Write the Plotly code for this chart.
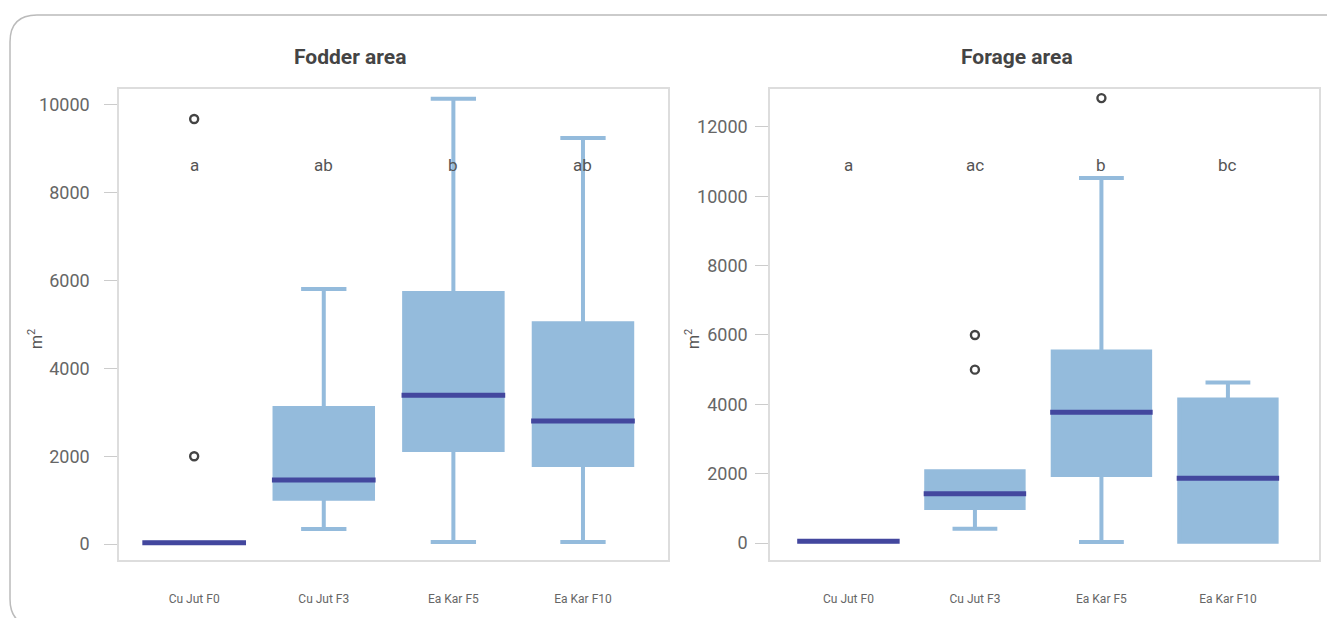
import plotly.graph_objects as go

# Groups shown on both panels
categories = ["Cu Jut F0", "Cu Jut F3", "Ea Kar F5", "Ea Kar F10"]

# Fodder area (m²): box summary statistics per group
fodder_q1 = [30, 1030, 2140, 1800]
fodder_median = [30, 1460, 3390, 2800]
fodder_q3 = [30, 3100, 5720, 5030]
fodder_low = [30, 340, 45, 45]
fodder_high = [30, 5810, 10140, 9250]
fodder_out_cat = ["Cu Jut F0", "Cu Jut F0"]
fodder_out_val = [9680, 2000]
fodder_letters = ["a", "ab", "b", "ab"]

# Forage area (m²): box summary statistics per group
forage_q1 = [50, 1010, 1960, 40]
forage_median = [50, 1420, 3770, 1870]
forage_q3 = [50, 2070, 5520, 4140]
forage_low = [50, 410, 30, 40]
forage_high = [50, 2070, 10530, 4630]
forage_out_cat = ["Cu Jut F3", "Cu Jut F3", "Ea Kar F5"]
forage_out_val = [6000, 5000, 12830]
forage_letters = ["a", "ac", "b", "bc"]

BOX = "#94bbdc"
MED = "#43479e"
OUT = "#444444"
W, H = 1327, 618

fig = go.Figure()


def add_panel(xr, yr, q1, med, q3, lo, hi, out_cat, out_val, box_w, med_w):
    fig.add_trace(go.Box(
        x=categories, q1=q1, median=med, q3=q3, lowerfence=lo, upperfence=hi,
        boxpoints=False, width=box_w, whiskerwidth=0.46,
        line=dict(color=BOX, width=4), fillcolor=BOX,
        xaxis=xr, yaxis=yr, showlegend=False, hoverinfo="skip"))
    # median bars as flat boxes in the darker colour
    fig.add_trace(go.Box(
        x=categories, q1=med, median=med, q3=med, lowerfence=med, upperfence=med,
        boxpoints=False, width=med_w, whiskerwidth=0,
        line=dict(color=MED, width=5), fillcolor=MED,
        xaxis=xr, yaxis=yr, showlegend=False, hoverinfo="skip"))
    fig.add_trace(go.Scatter(
        x=out_cat, y=out_val, mode="markers",
        marker=dict(symbol="circle-open", size=8, color=OUT,
                    line=dict(width=2.4, color=OUT)),
        xaxis=xr, yaxis=yr, showlegend=False, hoverinfo="skip"))


add_panel("x", "y", fodder_q1, fodder_median, fodder_q3, fodder_low,
          fodder_high, fodder_out_cat, fodder_out_val, 0.76, 0.80)
add_panel("x2", "y2", forage_q1, forage_median, forage_q3, forage_low,
          forage_high, forage_out_cat, forage_out_val, 0.77, 0.81)

FONT = "Roboto"
axis_common = dict(showgrid=False, zeroline=False, showline=True, mirror=True,
                   linecolor="#dddddd", linewidth=1.5)
xcommon = dict(axis_common, type="category", categoryorder="array",
               categoryarray=categories, ticks="",
               tickfont=dict(family=FONT, size=12, color="#666666"),
               ticklabelstandoff=27)
ycommon = dict(axis_common, ticks="outside", ticklen=13, tickcolor="#cccccc",
               tickwidth=1, tickfont=dict(family=FONT, size=18, color="#666666"),
               dtick=2000, tick0=0, tickformat="d")

y_dom = [1 - 560 / H, 1 - 89 / H]
fig.update_layout(
    width=W, height=H,
    margin=dict(l=0, r=0, t=0, b=0),
    paper_bgcolor="white", plot_bgcolor="white",
    boxmode="overlay",
    xaxis=dict(xcommon, domain=[119 / W, 668 / W], range=[-0.58, 3.656],
               anchor="y"),
    yaxis=dict(ycommon, domain=y_dom, range=[-364, 10364], ticklabelstandoff=11,
               anchor="x"),
    xaxis2=dict(xcommon, domain=[770 / W, 1319 / W], range=[-0.62, 3.72],
                anchor="y2"),
    yaxis2=dict(ycommon, domain=y_dom, range=[-489, 13093], ticklabelstandoff=4,
                anchor="x2"),
)

# significance letters above each group
for xr, yr, letters, y in (("x", "y", fodder_letters, 8630),
                           ("x2", "y2", forage_letters, 10900)):
    for cat, txt in zip(categories, letters):
        fig.add_annotation(x=cat, y=y, xref=xr, yref=yr, text=txt,
                           showarrow=False, xanchor="center", yanchor="middle",
                           font=dict(family=FONT, size=17, color="#555555"))

# panel titles and unit labels
for px, title in ((350, "Fodder area"), (1017, "Forage area")):
    fig.add_annotation(x=px / W, y=1 - 57 / H, xref="paper", yref="paper",
                       text="<b>" + title + "</b>", showarrow=False,
                       xanchor="center", yanchor="middle",
                       font=dict(family=FONT, size=21, color="#444444"))
for px in (35, 692):
    fig.add_annotation(x=px / W, y=1 - 339 / H, xref="paper", yref="paper",
                       text="m<sup>2</sup>", textangle=-90, showarrow=False,
                       xanchor="center", yanchor="middle",
                       font=dict(family=FONT, size=16, color="#555555"))

# rounded card outline running off the right and bottom edges
def P(x, y):
    return f"{x / W:.5f},{1 - y / H:.5f}"

r = 27
left, top, right, bottom = 10, 15, 1345, 626
path = (f"M {P(right, top)} L {P(left + r, top)} Q {P(left, top)} {P(left, top + r)} "
        f"L {P(left, bottom - r)} Q {P(left, bottom)} {P(left + r, bottom)} "
        f"L {P(right, bottom)}")
fig.add_shape(type="path", path=path, xref="paper", yref="paper",
              line=dict(color="#bbbbbb", width=1.5), layer="below")

fig.write_html("out.html")
